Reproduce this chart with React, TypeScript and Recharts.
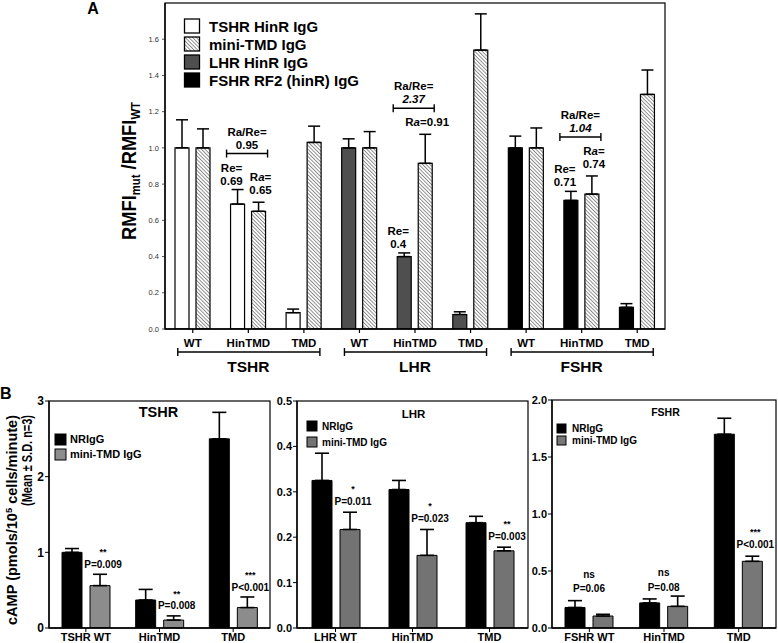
import React from 'react';
import { BarChart, Bar, XAxis, YAxis, ErrorBar, Cell, LabelList } from 'recharts';

const FONT = '"Liberation Sans", Arial, Helvetica, sans-serif';

// ---------------- Panel A data ----------------
const topCategories = ['TSHR WT', 'TSHR HinTMD', 'TSHR TMD', 'LHR WT', 'LHR HinTMD', 'LHR TMD', 'FSHR WT', 'FSHR HinTMD', 'FSHR TMD'];
const topTickLabels = ['WT', 'HinTMD', 'TMD', 'WT', 'HinTMD', 'TMD', 'WT', 'HinTMD', 'TMD'];
const topReceptors = ['TSHR', 'TSHR', 'TSHR', 'LHR', 'LHR', 'LHR', 'FSHR', 'FSHR', 'FSHR'];
const hinRValues = [1.0, 0.69, 0.09, 1.0, 0.4, 0.08, 1.0, 0.71, 0.12];
const hinRErrors = [0.155, 0.08, 0.02, 0.05, 0.02, 0.015, 0.065, 0.05, 0.02];
const miniValues = [1.0, 0.65, 1.03, 1.0, 0.915, 1.54, 1.0, 0.745, 1.295];
const miniErrors = [0.105, 0.05, 0.09, 0.09, 0.16, 0.2, 0.11, 0.1, 0.135];
const topYTicks = [0, 0.2, 0.4, 0.6, 0.8, 1.0, 1.2, 1.4, 1.6];
const topLegendLabels = ['TSHR HinR IgG', 'mini-TMD IgG', 'LHR HinR IgG', 'FSHR RF2 (hinR) IgG'];
const reTexts = ['', '0.69', '', '', '0.4', '', '', '0.71', ''];
const raTexts = ['', '0.65', '', '', '0.91', '', '', '0.74', ''];
const ratioTexts = ['', '0.95', '', '', '2.37', '', '', '1.04', ''];
const raOneLine = [false, false, false, false, true, false, false, false, false];
const ratioItalic = [false, false, false, false, true, false, false, true, false];

const receptorColors: Record<string, string> = { TSHR: '#ffffff', LHR: '#4f4f4f', FSHR: '#000000' };
const legendFills = ['#ffffff', 'url(#hatch)', '#4f4f4f', '#000000'];

// ---------------- Panel B data ----------------
const tshrCats = ['TSHR WT', 'HinTMD', 'TMD'];
const tshrNR = [1.0, 0.37, 2.5];
const tshrNRErr = [0.05, 0.14, 0.35];
const tshrMini = [0.56, 0.105, 0.27];
const tshrMiniErr = [0.15, 0.055, 0.14];
const tshrStars = ['**', '**', '***'];
const tshrP = ['P=0.009', 'P=0.008', 'P<0.001'];
const tshrYTicks = [0, 1, 2, 3];

const lhrCats = ['LHR WT', 'HinTMD', 'TMD'];
const lhrNR = [0.325, 0.305, 0.232];
const lhrNRErr = [0.06, 0.02, 0.014];
const lhrMini = [0.217, 0.16, 0.17];
const lhrMiniErr = [0.038, 0.057, 0.008];
const lhrStars = ['*', '*', '**'];
const lhrP = ['P=0.011', 'P=0.023', 'P=0.003'];
const lhrYTicks = [0, 0.1, 0.2, 0.3, 0.4, 0.5];

const fshrCats = ['FSHR WT', 'HinTMD', 'TMD'];
const fshrNR = [0.18, 0.22, 1.7];
const fshrNRErr = [0.06, 0.035, 0.14];
const fshrMini = [0.105, 0.19, 0.585];
const fshrMiniErr = [0.015, 0.09, 0.045];
const fshrStars = ['ns', 'ns', '***'];
const fshrP = ['P=0.06', 'P=0.08', 'P<0.001'];
const fshrYTicks = [0, 0.5, 1.0, 1.5, 2.0];
const fshrAnchors = ['group', 'group', 'mini'];

const bottomLegendLabels = ['NRIgG', 'mini-TMD IgG'];

// ---------------- helpers ----------------
const TOP_PLOT_W = 500;
const TOP_BAR_GAP = 7;

const getBox = (p: any) => {
  const vb = p.viewBox || {};
  return {
    x: Number(p.x ?? vb.x),
    y: Number(p.y ?? vb.y),
    w: Number(p.width ?? vb.width),
    h: Number(p.height ?? vb.height),
  };
};

const boldText = (x: number, y: number, content: any, size: number, extra: any = {}) => (
  <text x={x} y={y} textAnchor="middle" fontFamily={FONT} fontWeight="bold" fontSize={size} fill="#000" {...extra}>
    {content}
  </text>
);

const TopTick = (props: any) => {
  const { x, y, index } = props;
  const axisY = y - 4;
  const label = topTickLabels[index];
  const step = TOP_PLOT_W / topCategories.length;
  return (
    <g>
      {boldText(x, axisY + 18, label, 11.5)}
      {index % 3 === 1 && (
        <g>
          <line x1={x - step - 15} x2={x + step + 16} y1={axisY + 23} y2={axisY + 23} stroke="#000" strokeWidth={1.4} />
          <line x1={x - step - 15} x2={x - step - 15} y1={axisY + 19} y2={axisY + 27} stroke="#000" strokeWidth={1.4} />
          <line x1={x + step + 16} x2={x + step + 16} y1={axisY + 19} y2={axisY + 27} stroke="#000" strokeWidth={1.4} />
          {boldText(x, axisY + 43, topReceptors[index], 15.5)}
        </g>
      )}
    </g>
  );
};

const renderTopAnnotation = (props: any) => {
  const i = props.index;
  if (i == null || !ratioTexts[i]) return null;
  const { x, y, w, h } = getBox(props);
  const pxU = h / miniValues[i];
  const base = y + h;
  const hx = x + w / 2;
  const ox = x - TOP_BAR_GAP - w / 2;
  const gc = x - TOP_BAR_GAP / 2;
  const openTop = base - (hinRValues[i] + hinRErrors[i]) * pxU;
  const miniTop = base - (miniValues[i] + miniErrors[i]) * pxU;
  const fs = 11.5;
  const reL2 = openTop - 9;
  const reL1 = reL2 - 13;
  const raL2 = miniTop - 12;
  const raL1 = raOneLine[i] ? raL2 : raL2 - 13;
  const by = Math.min(reL1, raL1) - 14;
  const rx = hx + 2;
  const raLabel = (
    <>
      R<tspan fontStyle="italic">a</tspan>=
    </>
  );
  return (
    <g>
      {boldText(ox - 6, reL1 + 4, 'Re=', fs)}
      {boldText(ox - 6, reL2 + 4, reTexts[i], fs)}
      {raOneLine[i] ? (
        boldText(rx, raL2 + 4, <>{raLabel}{raTexts[i]}</>, fs)
      ) : (
        <g>
          {boldText(rx, raL1 + 4, raLabel, fs)}
          {boldText(rx, raL2 + 4, raTexts[i], fs)}
        </g>
      )}
      <line x1={gc - 21.5} x2={gc + 19.5} y1={by} y2={by} stroke="#000" strokeWidth={1.4} />
      <line x1={gc - 21.5} x2={gc - 21.5} y1={by - 4} y2={by + 4} stroke="#000" strokeWidth={1.4} />
      <line x1={gc + 19.5} x2={gc + 19.5} y1={by - 4} y2={by + 4} stroke="#000" strokeWidth={1.4} />
      {boldText(gc - 1, by - 22 + 4, 'Ra/Re=', fs)}
      {boldText(gc - 1, by - 9 + 4, ratioTexts[i], fs, ratioItalic[i] ? { fontStyle: 'italic' } : {})}
    </g>
  );
};

function TopChart() {
  const data = topCategories.map((cat, i) => ({
    cat,
    hinR: hinRValues[i],
    hinRErr: [0, hinRErrors[i]],
    mini: miniValues[i],
    miniErr: [0, miniErrors[i]],
  }));
  return (
    <div style={{ position: 'absolute', left: 0, top: 0 }}>
      <BarChart width={778} height={400} data={data} margin={{ top: 3, right: 113, bottom: 21, left: 125 }} barSize={14} barGap={TOP_BAR_GAP}>
        <XAxis
          dataKey="cat"
          height={50}
          interval={0}
          tickSize={4}
          tickMargin={0}
          tick={<TopTick />}
          axisLine={{ stroke: '#000', strokeWidth: 1.3 }}
          tickLine={{ stroke: '#000', strokeWidth: 1.2 }}
        />
        <YAxis
          width={40}
          domain={[0, 1.8]}
          allowDataOverflow
          ticks={topYTicks}
          tickFormatter={(v: number) => v.toFixed(1)}
          tickSize={3}
          tickMargin={3}
          tick={{ fontSize: 7.5, fill: '#333', fontFamily: FONT }}
          axisLine={{ stroke: '#000', strokeWidth: 1.3 }}
          tickLine={{ stroke: '#555' }}
        />
        <Bar dataKey="hinR" stroke="#000" strokeWidth={1.2} isAnimationActive={false}>
          {data.map((d, i) => (
            <Cell key={d.cat} fill={receptorColors[topReceptors[i]]} />
          ))}
          <ErrorBar dataKey="hinRErr" width={6} stroke="#000" strokeWidth={1.5} isAnimationActive={false} />
        </Bar>
        <Bar dataKey="mini" fill="url(#hatch)" stroke="#000" strokeWidth={1.2} isAnimationActive={false}>
          <ErrorBar dataKey="miniErr" width={6} stroke="#000" strokeWidth={1.5} isAnimationActive={false} />
          <LabelList dataKey="mini" content={renderTopAnnotation} />
        </Bar>
      </BarChart>
    </div>
  );
}

type PanelProps = {
  left: number;
  top: number;
  width: number;
  height: number;
  margin: any;
  yWidth: number;
  domain: [number, number];
  ticks: number[];
  tickFmt: (v: number) => string;
  tickFont: number;
  cats: string[];
  nr: number[];
  nrErr: number[];
  mini: number[];
  miniErr: number[];
  stars: string[];
  ps: string[];
  anchors: string[];
  grey: string;
  pGap: number;
};

function CampPanel(p: PanelProps) {
  const barGap = 8;
  const data = p.cats.map((cat, i) => ({
    cat,
    nr: p.nr[i],
    nrErr: [0, p.nrErr[i]],
    mini: p.mini[i],
    miniErr: [0, p.miniErr[i]],
  }));
  const renderAnn = (props: any) => {
    const i = props.index;
    if (i == null) return null;
    const { x, y, w, h } = getBox(props);
    const pxU = h / p.mini[i];
    const base = y + h;
    let cx: number;
    let top: number;
    if (p.anchors[i] === 'group') {
      cx = x - barGap / 2;
      top = base - (p.nr[i] + p.nrErr[i]) * pxU;
    } else {
      cx = x + w / 2 + 3;
      top = base - (p.mini[i] + p.miniErr[i]) * pxU;
    }
    const pC = top - p.pGap;
    const sC = pC - 14;
    const isNs = p.stars[i] === 'ns';
    return (
      <g>
        {boldText(cx, isNs ? sC + 3 : sC + 5, p.stars[i], isNs ? 10 : 9)}
        {boldText(cx, pC + 3.6, p.ps[i], 10)}
      </g>
    );
  };
  return (
    <div style={{ position: 'absolute', left: p.left, top: p.top }}>
      <BarChart width={p.width} height={p.height} data={data} margin={p.margin} barSize={20} barGap={barGap}>
        <XAxis
          dataKey="cat"
          height={15}
          interval={0}
          tickSize={4}
          tickMargin={1}
          tick={{ fontSize: 11, fontWeight: 'bold', fill: '#000', fontFamily: FONT }}
          axisLine={{ stroke: '#000', strokeWidth: 1.3 }}
          tickLine={{ stroke: '#000' }}
        />
        <YAxis
          width={p.yWidth}
          domain={p.domain}
          allowDataOverflow
          ticks={p.ticks}
          tickFormatter={p.tickFmt}
          tickSize={4}
          tickMargin={1}
          tick={{ fontSize: p.tickFont, fontWeight: 'bold', fill: '#000', fontFamily: FONT }}
          axisLine={{ stroke: '#000', strokeWidth: 1.3 }}
          tickLine={{ stroke: '#000' }}
        />
        <Bar dataKey="nr" fill="#000" stroke="#000" strokeWidth={1} isAnimationActive={false}>
          <ErrorBar dataKey="nrErr" width={7} stroke="#000" strokeWidth={1.6} isAnimationActive={false} />
        </Bar>
        <Bar dataKey="mini" fill={p.grey} stroke="#000" strokeWidth={1} isAnimationActive={false}>
          <ErrorBar dataKey="miniErr" width={7} stroke="#000" strokeWidth={1.6} isAnimationActive={false} />
          <LabelList dataKey="mini" content={renderAnn} />
        </Bar>
      </BarChart>
    </div>
  );
}

// plot frames (styling only)
const frames = [
  { x: 165, y: 3, w: 500, h: 326 },
  { x: 49, y: 401, w: 221, h: 227 },
  { x: 297, y: 401, w: 231, h: 227 },
  { x: 552, y: 400, w: 224, h: 228 },
];

function Overlay() {
  const legendRows = [26, 44, 62, 80];
  return (
    <svg width={778} height={643} style={{ position: 'absolute', left: 0, top: 0, pointerEvents: 'none' }}>
      <defs>
        <pattern id="hatch" patternUnits="userSpaceOnUse" width={2.6} height={2.6} patternTransform="rotate(-45)">
          <rect width={2.6} height={2.6} fill="#ffffff" />
          <line x1={0.5} y1={0} x2={0.5} y2={2.6} stroke="#6a6a6a" strokeWidth={0.75} />
        </pattern>
      </defs>
      {frames.map((f, i) => (
        <rect key={i} x={f.x} y={f.y} width={f.w} height={f.h} fill="none" stroke="#000" strokeWidth={1.2} />
      ))}
      {/* Panel labels */}
      <text x={93} y={14} textAnchor="middle" fontFamily={FONT} fontWeight="bold" fontSize={16}>A</text>
      <text x={0} y={399} fontFamily={FONT} fontWeight="bold" fontSize={16}>B</text>

      {/* Top legend */}
      {topLegendLabels.map((lab, i) => (
        <g key={lab}>
          <rect x={184.5} y={legendRows[i] - 7} width={15} height={14} fill={legendFills[i]} stroke="#000" strokeWidth={1.3} />
          <text x={209} y={legendRows[i] + 5.5} fontFamily={FONT} fontWeight="bold" fontSize={15}>{lab}</text>
        </g>
      ))}

      {/* Top y-axis label */}
      <text
        transform="translate(136,171) rotate(-90)"
        textAnchor="middle"
        fontFamily={FONT}
        fontWeight="bold"
        textLength={138}
        lengthAdjust="spacingAndGlyphs"
      >
        <tspan fontSize={21}>RMFI</tspan>
        <tspan fontSize={13} dy={4}>mut</tspan>
        <tspan fontSize={21} dy={-4}> /RMFI</tspan>
        <tspan fontSize={13} dy={4}>WT</tspan>
      </text>

      {/* Bottom y-axis label */}
      <text transform="translate(17,415) rotate(-90)" textAnchor="end" fontFamily={FONT} fontWeight="bold" fontSize={14} textLength={210} lengthAdjust="spacingAndGlyphs">
        cAMP (pmols/10<tspan dy={-5} fontSize={9}>5</tspan><tspan dy={5}> cells/minute)</tspan>
      </text>
      <text transform="translate(32,415) rotate(-90)" textAnchor="end" fontFamily={FONT} fontWeight="bold" fontSize={14} textLength={91} lengthAdjust="spacingAndGlyphs">
        (Mean ± S.D. n=3)
      </text>

      {/* Bottom titles */}
      <text x={158.5} y={417} textAnchor="middle" fontFamily={FONT} fontWeight="bold" fontSize={14.5}>TSHR</text>
      <text x={413.5} y={418} textAnchor="middle" fontFamily={FONT} fontWeight="bold" fontSize={11.5}>LHR</text>
      <text x={665.5} y={416} textAnchor="middle" fontFamily={FONT} fontWeight="bold" fontSize={10.5}>FSHR</text>

      {/* Bottom legends */}
      {[
        { x: 55, ys: [434, 449], size: 11, tx: 70, fs: 11, grey: '#8c8c8c' },
        { x: 307, ys: [421, 437], size: 10, tx: 322, fs: 10, grey: '#737373' },
        { x: 557, ys: [424, 436], size: 9, tx: 572, fs: 10, grey: '#777777' },
      ].map((L, k) => (
        <g key={k}>
          {bottomLegendLabels.map((lab, i) => (
            <g key={lab}>
              <rect x={L.x} y={L.ys[i]} width={L.size} height={L.size} fill={i === 0 ? '#000' : L.grey} stroke="#000" strokeWidth={1} />
              <text x={L.tx} y={L.ys[i] + L.size / 2 + L.fs * 0.36} fontFamily={FONT} fontWeight="bold" fontSize={L.fs}>{lab}</text>
            </g>
          ))}
        </g>
      ))}
    </svg>
  );
}

export default function App() {
  return (
    <div style={{ position: 'absolute', left: 0, top: 0, width: 778, height: 643, background: '#fff', overflow: 'hidden' }}>
      <TopChart />
      <CampPanel
        left={0}
        top={390}
        width={290}
        height={253}
        margin={{ top: 11, right: 20, bottom: 0, left: 0 }}
        yWidth={49}
        domain={[0, 3]}
        ticks={tshrYTicks}
        tickFmt={(v) => String(v)}
        tickFont={12}
        cats={tshrCats}
        nr={tshrNR}
        nrErr={tshrNRErr}
        mini={tshrMini}
        miniErr={tshrMiniErr}
        stars={tshrStars}
        ps={tshrP}
        anchors={['mini', 'mini', 'mini']}
        grey="#8c8c8c"
        pGap={10}
      />
      <CampPanel
        left={250}
        top={390}
        width={300}
        height={253}
        margin={{ top: 11, right: 22, bottom: 0, left: 0 }}
        yWidth={47}
        domain={[0, 0.5]}
        ticks={lhrYTicks}
        tickFmt={(v) => v.toFixed(1)}
        tickFont={11}
        cats={lhrCats}
        nr={lhrNR}
        nrErr={lhrNRErr}
        mini={lhrMini}
        miniErr={lhrMiniErr}
        stars={lhrStars}
        ps={lhrP}
        anchors={['mini', 'mini', 'mini']}
        grey="#737373"
        pGap={11}
      />
      <CampPanel
        left={505}
        top={390}
        width={273}
        height={253}
        margin={{ top: 10, right: 2, bottom: 0, left: 0 }}
        yWidth={47}
        domain={[0, 2]}
        ticks={fshrYTicks}
        tickFmt={(v) => v.toFixed(1)}
        tickFont={11}
        cats={fshrCats}
        nr={fshrNR}
        nrErr={fshrNRErr}
        mini={fshrMini}
        miniErr={fshrMiniErr}
        stars={fshrStars}
        ps={fshrP}
        anchors={fshrAnchors}
        grey="#777777"
        pGap={12}
      />
      <Overlay />
    </div>
  );
}
